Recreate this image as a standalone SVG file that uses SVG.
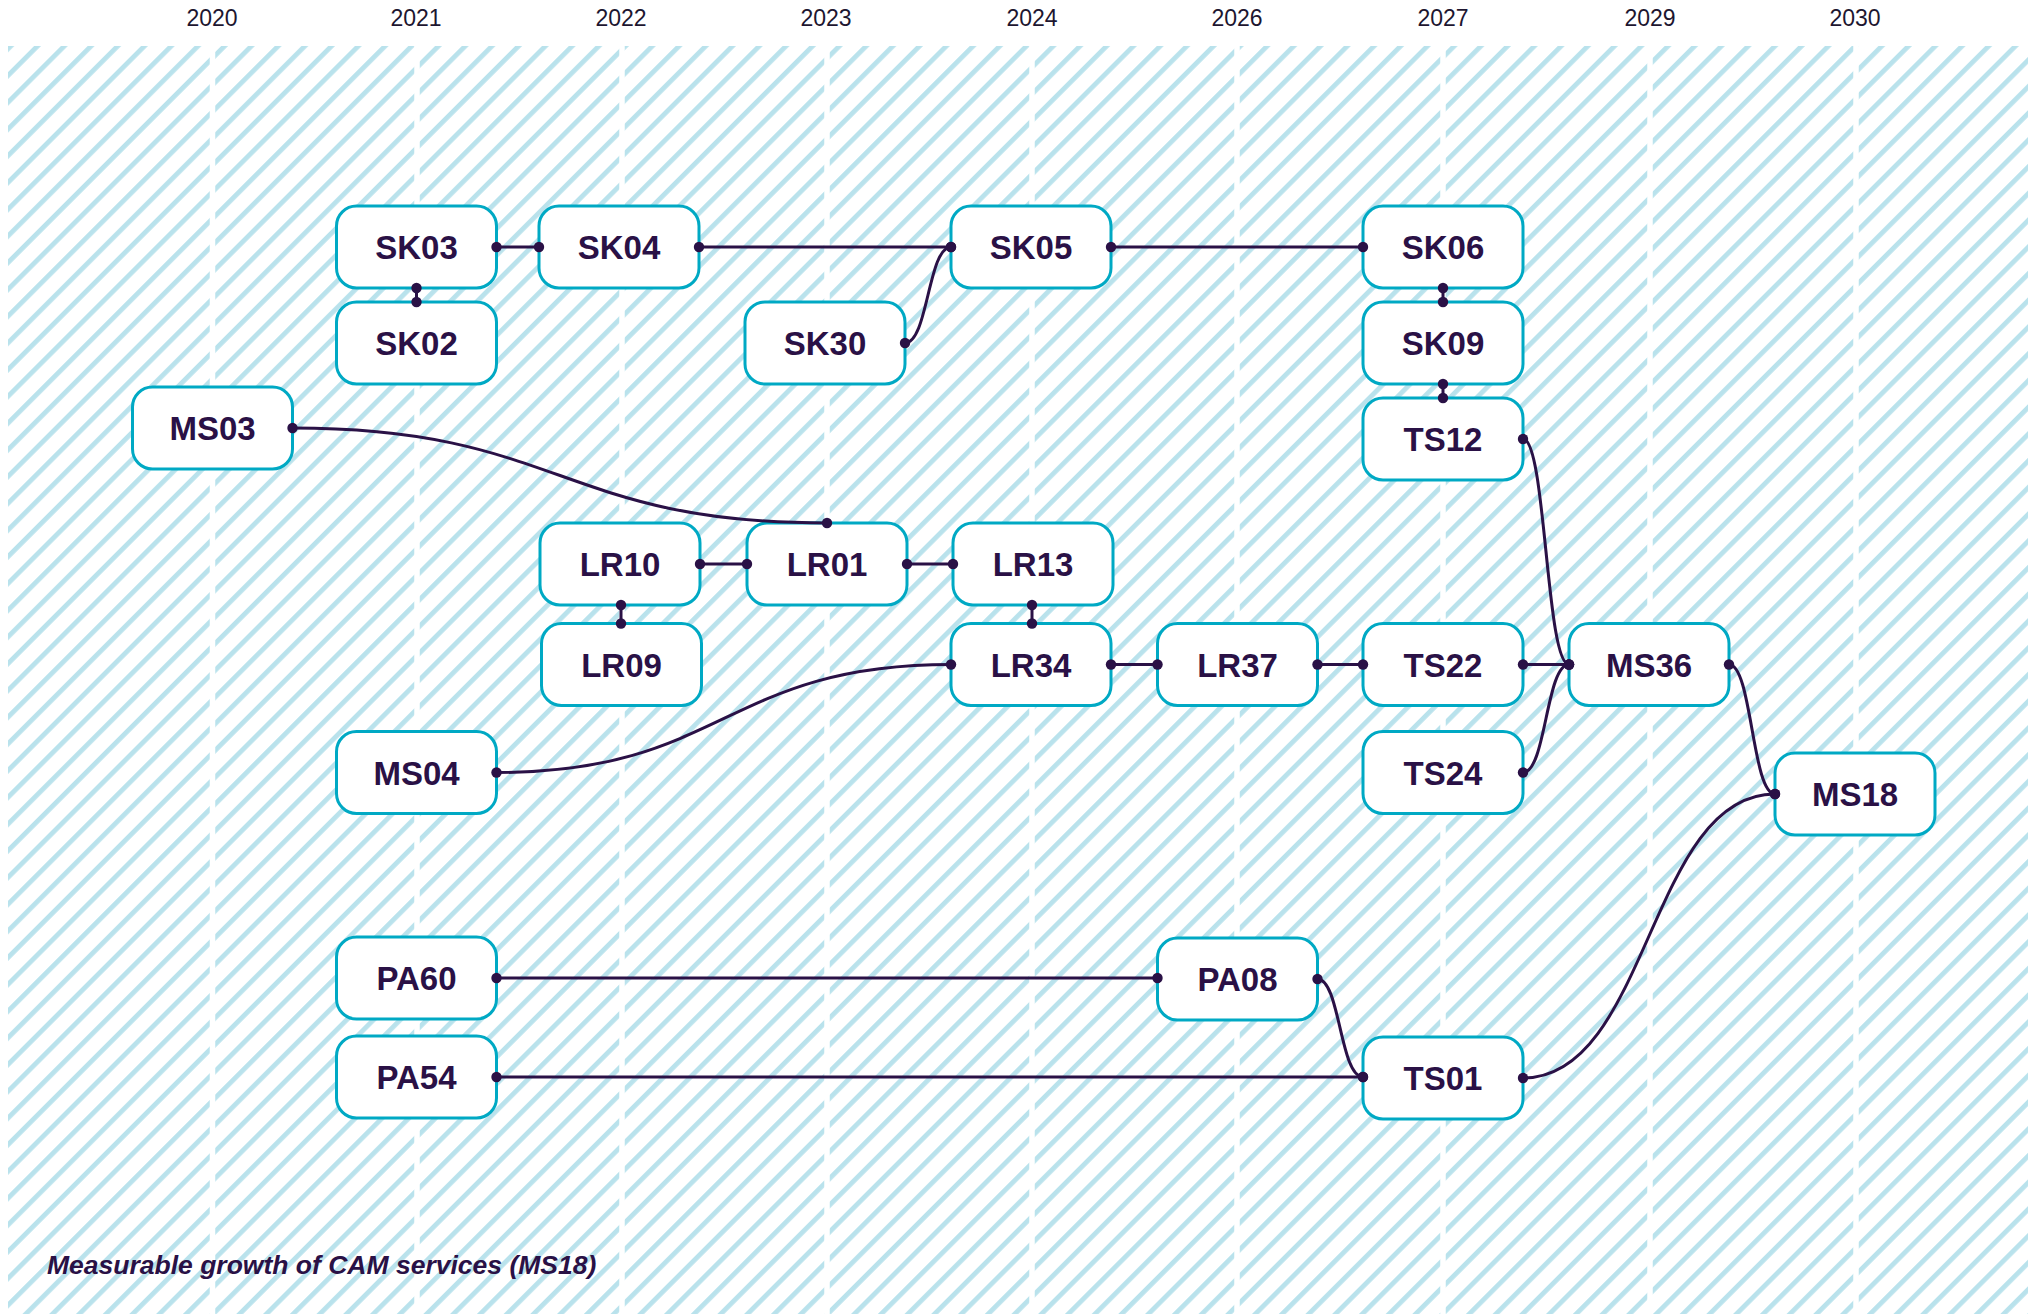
<svg xmlns="http://www.w3.org/2000/svg" width="2040" height="1314" viewBox="0 0 2040 1314">
<style>
.yr{font-family:"Liberation Sans",Arial,sans-serif;font-size:23px;fill:#1d1630;text-anchor:middle}
.nb{fill:#fff;stroke:#00a9c4;stroke-width:3}
.nt{font-family:"Liberation Sans",Arial,sans-serif;font-weight:bold;font-size:33px;fill:#2a1146;text-anchor:middle}
.cn{fill:none;stroke:#2a1146;stroke-width:3;marker-start:url(#dot);marker-end:url(#dot)}
.gap{stroke:#fff;stroke-width:5.5}
.note{font-family:"Liberation Sans",Arial,sans-serif;font-weight:bold;font-style:italic;font-size:26.5px;fill:#2a1146}
</style>
<defs>
<pattern id="hatch" patternUnits="userSpaceOnUse" width="18.9" height="18.9" patternTransform="rotate(45)">
<rect x="0" y="0" width="4.8" height="18.9" fill="#b9e2ec"/>
</pattern>
<marker id="dot" markerUnits="userSpaceOnUse" markerWidth="12" markerHeight="12" refX="6" refY="6" viewBox="0 0 12 12">
<circle cx="6" cy="6" r="5.2" fill="#2a1146"/>
</marker>
</defs>
<rect width="2040" height="1314" fill="#fff"/>
<g id="background">
<rect x="8" y="46" width="2020" height="1268" fill="url(#hatch)"/>
<line class="gap" x1="212.5" y1="46" x2="212.5" y2="1314"/>
<line class="gap" x1="417" y1="46" x2="417" y2="1314"/>
<line class="gap" x1="622" y1="46" x2="622" y2="1314"/>
<line class="gap" x1="827" y1="46" x2="827" y2="1314"/>
<line class="gap" x1="1032" y1="46" x2="1032" y2="1314"/>
<line class="gap" x1="1237" y1="46" x2="1237" y2="1314"/>
<line class="gap" x1="1443" y1="46" x2="1443" y2="1314"/>
<line class="gap" x1="1650" y1="46" x2="1650" y2="1314"/>
<line class="gap" x1="1856" y1="46" x2="1856" y2="1314"/>
</g>
<g id="years">
<text class="yr" x="212" y="26">2020</text>
<text class="yr" x="416" y="26">2021</text>
<text class="yr" x="621" y="26">2022</text>
<text class="yr" x="826" y="26">2023</text>
<text class="yr" x="1032" y="26">2024</text>
<text class="yr" x="1237" y="26">2026</text>
<text class="yr" x="1443" y="26">2027</text>
<text class="yr" x="1650" y="26">2029</text>
<text class="yr" x="1855" y="26">2030</text>
</g>
<g id="SK03"><rect class="nb" x="336.5" y="206" width="160" height="82" rx="20"/><text class="nt" x="416.5" y="259">SK03</text></g>
<g id="SK02"><rect class="nb" x="336.5" y="302" width="160" height="82" rx="20"/><text class="nt" x="416.5" y="355">SK02</text></g>
<g id="SK04"><rect class="nb" x="539" y="206" width="160" height="82" rx="20"/><text class="nt" x="619" y="259">SK04</text></g>
<g id="SK05"><rect class="nb" x="951" y="206" width="160" height="82" rx="20"/><text class="nt" x="1031" y="259">SK05</text></g>
<g id="SK30"><rect class="nb" x="745" y="302" width="160" height="82" rx="20"/><text class="nt" x="825" y="355">SK30</text></g>
<g id="SK06"><rect class="nb" x="1363" y="206" width="160" height="82" rx="20"/><text class="nt" x="1443" y="259">SK06</text></g>
<g id="SK09"><rect class="nb" x="1363" y="302" width="160" height="82" rx="20"/><text class="nt" x="1443" y="355">SK09</text></g>
<g id="TS12"><rect class="nb" x="1363" y="398" width="160" height="82" rx="20"/><text class="nt" x="1443" y="451">TS12</text></g>
<g id="MS03"><rect class="nb" x="132.5" y="387" width="160" height="82" rx="20"/><text class="nt" x="212.5" y="440">MS03</text></g>
<g id="LR10"><rect class="nb" x="540" y="523" width="160" height="82" rx="20"/><text class="nt" x="620" y="576">LR10</text></g>
<g id="LR01"><rect class="nb" x="747" y="523" width="160" height="82" rx="20"/><text class="nt" x="827" y="576">LR01</text></g>
<g id="LR13"><rect class="nb" x="953" y="523" width="160" height="82" rx="20"/><text class="nt" x="1033" y="576">LR13</text></g>
<g id="LR09"><rect class="nb" x="541.5" y="623.5" width="160" height="82" rx="20"/><text class="nt" x="621.5" y="676.5">LR09</text></g>
<g id="LR34"><rect class="nb" x="951" y="623.5" width="160" height="82" rx="20"/><text class="nt" x="1031" y="676.5">LR34</text></g>
<g id="LR37"><rect class="nb" x="1157.5" y="623.5" width="160" height="82" rx="20"/><text class="nt" x="1237.5" y="676.5">LR37</text></g>
<g id="TS22"><rect class="nb" x="1363" y="623.5" width="160" height="82" rx="20"/><text class="nt" x="1443" y="676.5">TS22</text></g>
<g id="MS36"><rect class="nb" x="1569" y="623.5" width="160" height="82" rx="20"/><text class="nt" x="1649" y="676.5">MS36</text></g>
<g id="TS24"><rect class="nb" x="1363" y="731.5" width="160" height="82" rx="20"/><text class="nt" x="1443" y="784.5">TS24</text></g>
<g id="MS04"><rect class="nb" x="336.5" y="731.5" width="160" height="82" rx="20"/><text class="nt" x="416.5" y="784.5">MS04</text></g>
<g id="MS18"><rect class="nb" x="1775" y="753" width="160" height="82" rx="20"/><text class="nt" x="1855" y="806">MS18</text></g>
<g id="PA60"><rect class="nb" x="336.5" y="937" width="160" height="82" rx="20"/><text class="nt" x="416.5" y="990">PA60</text></g>
<g id="PA08"><rect class="nb" x="1157.5" y="938" width="160" height="82" rx="20"/><text class="nt" x="1237.5" y="991">PA08</text></g>
<g id="PA54"><rect class="nb" x="336.5" y="1036" width="160" height="82" rx="20"/><text class="nt" x="416.5" y="1089">PA54</text></g>
<g id="TS01"><rect class="nb" x="1363" y="1037" width="160" height="82" rx="20"/><text class="nt" x="1443" y="1090">TS01</text></g>
<g id="connectors">
<path class="cn" d="M496.5 247 H539"/>
<path class="cn" d="M416.5 288 V302"/>
<path class="cn" d="M699 247 H951"/>
<path class="cn" d="M905 343 C928 343 928 247 951 247"/>
<path class="cn" d="M1111 247 H1363"/>
<path class="cn" d="M1443 288 V302"/>
<path class="cn" d="M1443 384 V398"/>
<path class="cn" d="M292.5 428 C560 428 560 523 827 523"/>
<path class="cn" d="M700 564 H747"/>
<path class="cn" d="M907 564 H953"/>
<path class="cn" d="M621 605 V623.5"/>
<path class="cn" d="M1032 605 V623.5"/>
<path class="cn" d="M496.5 772.5 C724 772.5 724 664.5 951 664.5"/>
<path class="cn" d="M1111 664.5 H1157.5"/>
<path class="cn" d="M1317.5 664.5 H1363"/>
<path class="cn" d="M1523 664.5 H1569"/>
<path class="cn" d="M1523 439 C1546 439 1546 664.5 1569 664.5"/>
<path class="cn" d="M1523 772.5 C1546 772.5 1546 664.5 1569 664.5"/>
<path class="cn" d="M1729 664.5 C1752 664.5 1752 794 1775 794"/>
<path class="cn" d="M496.5 978 H1157.5"/>
<path class="cn" d="M496.5 1077 H1363"/>
<path class="cn" d="M1317.5 979 C1340 979 1340 1077 1363 1077"/>
<path class="cn" d="M1523 1078 C1649 1078 1649 794 1775 794"/>
</g>
<text class="note" x="47" y="1274">Measurable growth of CAM services (MS18)</text>
</svg>
